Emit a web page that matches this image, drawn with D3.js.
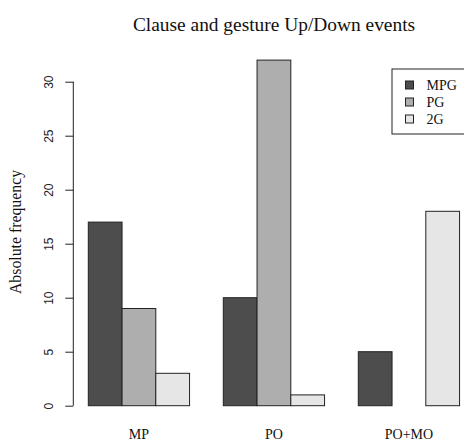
<!DOCTYPE html>
<html><head><meta charset="utf-8">
<script src="https://cdn.jsdelivr.net/npm/d3@7"></script>
<style>body{margin:0;background:#fff}svg{display:block}</style>
</head><body>
<script>
const categories = ["MP", "PO", "PO+MO"];
const seriesNames = ["MPG", "PG", "2G"];
const seriesColors = ["#4D4D4D", "#AEAEAE", "#E6E6E6"];
const valuesMPG = [17, 10, 5];
const valuesPG = [9, 32, 0];
const values2G = [3, 1, 18];
const yTicks = [0, 5, 10, 15, 20, 25, 30];
const title = "Clause and gesture Up/Down events";
const yLabel = "Absolute frequency";

const series = [valuesMPG, valuesPG, values2G];
const W = 464, H = 441;
const svg = d3.select("body").append("svg").attr("width", W).attr("height", H);
const serif = "'Liberation Serif', serif";

const y = d3.scaleLinear().domain([0, 30]).range([405.7, 81.7]);
const x = d3.scaleLinear().domain([0, 12]).range([54.55, 54.55 + 33.75 * 12]);

// bars
categories.forEach((c, i) => {
  series.forEach((vals, j) => {
    const u = i * 4 + 1 + j;
    const v = vals[i];
    svg.append("rect")
      .attr("x", x(u)).attr("width", x(u + 1) - x(u))
      .attr("y", y(v)).attr("height", y(0) - y(v))
      .attr("fill", seriesColors[j]).attr("stroke", "#222").attr("stroke-width", 1);
  });
  svg.append("text").attr("x", x(i * 4 + 2.5)).attr("y", 438.5)
    .attr("text-anchor", "middle").attr("font-family", serif).attr("font-size", 14)
    .attr("fill", "#111").text(c);
});

// y axis
const ax = svg.append("g").attr("transform", "translate(73.3,0)")
  .call(d3.axisLeft(y).tickValues(yTicks).tickSize(8).tickFormat(d3.format("d")));
ax.select(".domain").attr("stroke", "#222").attr("d", `M0,${y(0)}V${y(30)}`);
ax.selectAll(".tick line").attr("stroke", "#222");
ax.selectAll(".tick text")
  .attr("font-family", "'Liberation Sans', Arial, sans-serif").attr("font-size", 12).attr("fill", "#222")
  .attr("text-anchor", "middle").attr("dy", "0.35em")
  .attr("transform", "rotate(-90)").attr("x", 0).attr("y", -25);

// title
svg.append("text").attr("x", 274).attr("y", 31).attr("text-anchor", "middle")
  .attr("font-family", serif).attr("font-size", 19.4).attr("fill", "#111").text(title);

// y label
svg.append("text").attr("transform", "translate(21,232) rotate(-90)").attr("text-anchor", "middle")
  .attr("font-family", serif).attr("font-size", 15.8).attr("fill", "#111").text(yLabel);

// legend
const lg = svg.append("g");
lg.append("rect").attr("x", 392).attr("y", 69).attr("width", 78).attr("height", 65)
  .attr("fill", "#fff").attr("stroke", "#222");
seriesNames.forEach((n, j) => {
  const cy = 85 + j * 17;
  lg.append("rect").attr("x", 405.5).attr("y", cy - 4).attr("width", 8).attr("height", 8)
    .attr("fill", seriesColors[j]).attr("stroke", "#222");
  lg.append("text").attr("x", 426.5).attr("y", cy).attr("dy", "0.35em")
    .attr("font-family", serif).attr("font-size", 14).attr("fill", "#111").text(n);
});
</script>
</body></html>
